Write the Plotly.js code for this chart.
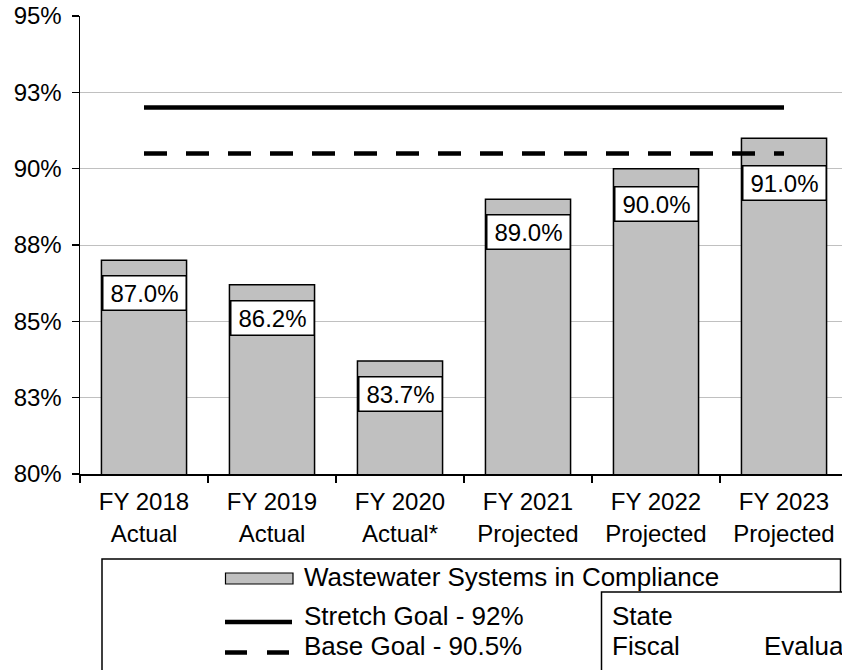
<!DOCTYPE html>
<html>
<head>
<meta charset="utf-8">
<script src="https://cdn.plot.ly/plotly-3.0.1.min.js"></script>
<style>
html, body { margin: 0; padding: 0; overflow: hidden; background: #fff; }
#chart { width: 842px; height: 670px; }
</style>
</head>
<body>
<div id="chart"></div>
<script>
// ---- data ----
const categories = ['FY 2018<br>Actual', 'FY 2019<br>Actual', 'FY 2020<br>Actual*',
                    'FY 2021<br>Projected', 'FY 2022<br>Projected', 'FY 2023<br>Projected'];
const compliance = [87.0, 86.2, 83.7, 89.0, 90.0, 91.0];
const stretchGoal = [92, 92, 92, 92, 92, 92];
const baseGoal = [90.5, 90.5, 90.5, 90.5, 90.5, 90.5];
const yTickVals = [80, 82.5, 85, 87.5, 90, 92.5, 95];
const yTickText = ['80%', '83%', '85%', '88%', '90%', '93%', '95%'];
const seriesNames = ['Wastewater Systems in Compliance', 'Stretch Goal - 92%', 'Base Goal - 90.5%'];
const tableWords = ['State', 'Fiscal', 'Evalua'];

// ---- style ----
const FONT = 'Liberation Sans, Arial, sans-serif';
const BAR_FILL = '#c0c0c0';
const labelDrop = [15, 15, 15, 15, 17, 27];   // px below bar top for value boxes

const L = 80, T = 16, PW = 762, PH = 458;
const fx = p => (p - L) / PW;
const fy = p => (T + PH - p) / PH;

const traces = [
  {
    type: 'bar', x: categories, y: compliance, name: seriesNames[0],
    marker: { color: BAR_FILL, line: { color: '#000', width: 1.5 } },
    width: 0.665, hoverinfo: 'skip', showlegend: false
  },
  {
    type: 'scatter', mode: 'lines', x: categories, y: stretchGoal, name: seriesNames[1],
    line: { color: '#000', width: 4.5 }, hoverinfo: 'skip', showlegend: false
  },
  {
    type: 'scatter', mode: 'lines', x: categories, y: baseGoal, name: seriesNames[2],
    line: { color: '#000', width: 4.5, dash: '23px,19px' }, hoverinfo: 'skip', showlegend: false
  }
];

const annotations = compliance.map((v, i) => ({
  x: categories[i], y: v, xref: 'x', yref: 'y',
  text: v.toFixed(1) + '%', showarrow: false,
  xanchor: 'center', yanchor: 'top', yshift: -labelDrop[i],
  bgcolor: '#fff', bordercolor: '#000', borderwidth: 1.5, borderpad: 1,
  width: 80, height: 31,
  font: { family: FONT, size: 24, color: '#000' }
}));

const legendFont = { family: FONT, size: 26, color: '#000' };
annotations.push(
  { xref: 'paper', yref: 'paper', x: fx(302), y: fy(577), xanchor: 'left', yanchor: 'middle',
    text: seriesNames[0], showarrow: false, font: legendFont },
  { xref: 'paper', yref: 'paper', x: fx(302), y: fy(616), xanchor: 'left', yanchor: 'middle',
    text: seriesNames[1], showarrow: false, font: legendFont },
  { xref: 'paper', yref: 'paper', x: fx(302), y: fy(646), xanchor: 'left', yanchor: 'middle',
    text: seriesNames[2], showarrow: false, font: legendFont },
  { xref: 'paper', yref: 'paper', x: fx(610), y: fy(616), xanchor: 'left', yanchor: 'middle',
    text: tableWords[0], showarrow: false, font: legendFont },
  { xref: 'paper', yref: 'paper', x: fx(610), y: fy(646), xanchor: 'left', yanchor: 'middle',
    text: tableWords[1], showarrow: false, font: legendFont },
  { xref: 'paper', yref: 'paper', x: fx(762), y: fy(646), xanchor: 'left', yanchor: 'middle',
    text: tableWords[2], showarrow: false, font: legendFont }
);

const shapes = [
  { type: 'rect', xref: 'paper', yref: 'paper', x0: fx(102), y0: fy(559), x1: fx(840.5), y1: fy(720),
    line: { color: '#000', width: 1.5 }, fillcolor: 'rgba(0,0,0,0)' },
  { type: 'rect', xref: 'paper', yref: 'paper', x0: fx(225.5), y0: fy(573), x1: fx(293), y1: fy(584),
    line: { color: '#000', width: 1.2 }, fillcolor: BAR_FILL },
  { type: 'line', xref: 'paper', yref: 'paper', x0: fx(225), y0: fy(622), x1: fx(292), y1: fy(622),
    line: { color: '#000', width: 4.5 } },
  { type: 'line', xref: 'paper', yref: 'paper', x0: fx(225), y0: fy(652.5), x1: fx(291), y1: fy(652.5),
    line: { color: '#000', width: 4.5, dash: '22px,20px' } },
  { type: 'rect', xref: 'paper', yref: 'paper', x0: fx(601.5), y0: fy(592), x1: fx(900), y1: fy(720),
    line: { color: '#000', width: 1.5 }, fillcolor: '#fff' }
];

const layout = {
  width: 842, height: 670,
  margin: { l: L, r: 0, t: T, b: 670 - T - PH, pad: 0 },
  paper_bgcolor: '#fff', plot_bgcolor: '#fff',
  font: { family: FONT, size: 24, color: '#000' },
  showlegend: false,
  bargap: 0.335,
  xaxis: {
    type: 'category', range: [-0.5, 5.453],
    showgrid: false, zeroline: false,
    showline: true, linecolor: '#000', linewidth: 1.5,
    ticks: 'outside', tickson: 'boundaries', ticklen: 7, tickwidth: 1.5, tickcolor: '#000',
    ticklabelstandoff: 6,
    tickfont: { family: FONT, size: 24, color: '#000' }
  },
  yaxis: {
    range: [80, 95], tickvals: yTickVals, ticktext: yTickText,
    showgrid: true, gridcolor: '#c0c0c0', gridwidth: 1, zeroline: false,
    showline: true, linecolor: '#000', linewidth: 1.5,
    ticks: 'outside', ticklen: 7, tickwidth: 1.5, tickcolor: '#000',
    ticklabelstandoff: 5,
    tickfont: { family: FONT, size: 24, color: '#000' }
  },
  annotations: annotations,
  shapes: shapes
};

Plotly.newPlot('chart', traces, layout, { displayModeBar: false, staticPlot: true });
</script>
</body>
</html>
